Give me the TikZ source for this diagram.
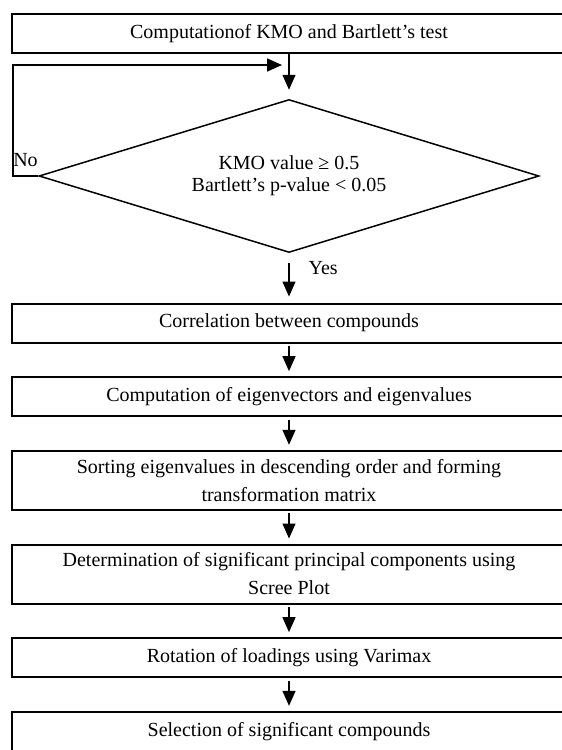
\documentclass[tikz,border=0pt]{standalone}
\usepackage{fontspec}
\setmainfont{Liberation Serif}
\usetikzlibrary{shapes.geometric, arrows.meta, positioning}

\begin{document}
\begin{tikzpicture}[x=0.6pt, y=-0.6pt, font=\fontsize{12}{16.8}\selectfont,
          stepbox/.style={rectangle, draw, line width=1.2pt, minimum width=332.4pt, minimum height=23.4pt, align=center, inner sep=2pt},
          tallbox/.style={stepbox, minimum height=35.4pt},
          check/.style={diamond, draw, line width=0.9pt, minimum width=300pt, minimum height=91.8pt, aspect=3.3, align=center, inner sep=1pt, font=\fontsize{12}{13.4}\selectfont},
          flow/.style={-{Triangle[length=9pt, width=7.8pt]}, line width=0.8pt, shorten <=1.5pt, shorten >=3pt}
        ]
          \useasboundingbox (0,0) rectangle (562,750);
          \clip (0,0) rectangle (562,750); % boxes run past the right and bottom edge
          \node (kmo) [stepbox] at (289,33.5) {Computationof KMO and Bartlett’s test};
          \node (test) [check] at (289,176) {KMO value ≥ 0.5\\Bartlett’s p-value < 0.05};
          \node (corr) [stepbox] at (289,323) {Correlation between compounds};
          \node (eigen) [stepbox, below=19.6pt of corr] {Computation of eigenvectors and eigenvalues};
          \node (sort) [tallbox, below=19.6pt of eigen] {Sorting eigenvalues in descending order and forming\\transformation matrix};
          \node (scree) [tallbox, below=19.6pt of sort] {Determination of significant principal components using\\Scree Plot};
          \node (varimax) [stepbox, below=19.6pt of scree] {Rotation of loadings using Varimax};
          \node (select) [stepbox, below=19.6pt of varimax] {Selection of significant compounds};
          \coordinate (merge) at (289,65);
          \draw[flow, shorten <=0pt, shorten >=5.4pt] (kmo) -- (test);
          \draw[flow, line width=1pt, shorten <=0pt, shorten >=4.2pt] (test.west) -- node[above, yshift=2pt] {No} ++(-25.5,0) |- (merge); % back to the test
          \draw[flow, shorten <=6pt, shorten >=3.6pt] (test) -- node[right=8pt, pos=0.3] {Yes} (corr);
          \draw[flow] (corr) -- (eigen);
          \draw[flow] (eigen) -- (sort);
          \draw[flow] (sort) -- (scree);
          \draw[flow] (scree) -- (varimax);
          \draw[flow] (varimax) -- (select);
        \end{tikzpicture}
\end{document}
